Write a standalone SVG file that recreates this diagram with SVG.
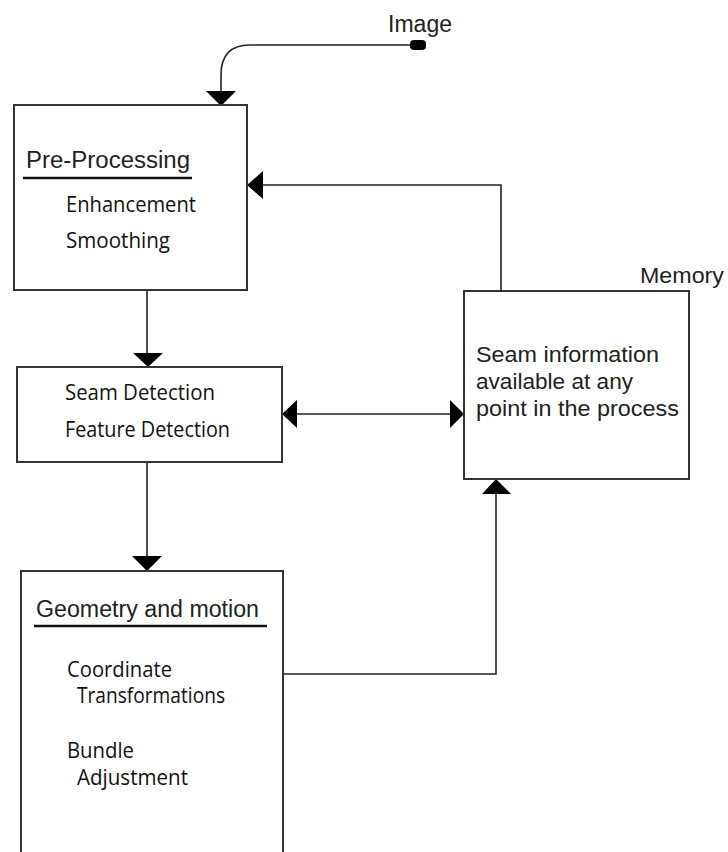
<svg xmlns="http://www.w3.org/2000/svg" width="728" height="852" viewBox="0 0 728 852">
<style>
.box{fill:#fff;stroke:#333;stroke-width:2}
.ln{fill:none;stroke:#222;stroke-width:1.6}
.ah{fill:#000}
.ttl{font-family:"Liberation Sans",Arial,sans-serif;font-size:23px;fill:#222}
.itm{font-family:"Open Sans","Noto Sans",sans-serif;font-size:21px;fill:#111}
.mem{font-family:"Liberation Sans",Arial,sans-serif;font-size:22.5px;fill:#222}
.ul{stroke:#111;stroke-width:2.5}
</style>
<rect width="728" height="852" fill="#fff"/>
<g id="connectors">
  <path class="ln" d="M418,45 H250 Q221,45 221,75 V92"/>
  <rect x="410" y="40" width="16" height="10" rx="4" fill="#000"/>
  <polygon class="ah" points="206,91 236,91 221,106"/>
  <path class="ln" d="M147,290 V354"/>
  <polygon class="ah" points="133,353 163,353 148,367"/>
  <path class="ln" d="M501,291 V185 H260"/>
  <polygon class="ah" points="247,185 263,171 263,199"/>
  <path class="ln" d="M294,414 H452"/>
  <polygon class="ah" points="282,414 297,400 297,428"/>
  <polygon class="ah" points="464,414 450,400 450,428"/>
  <path class="ln" d="M147,462 V557"/>
  <polygon class="ah" points="132,556 162,556 147,571"/>
  <path class="ln" d="M283,674 H496 V492"/>
  <polygon class="ah" points="496,479 482,494 511,494"/>
</g>
<g id="image-label">
  <text class="ttl" x="388" y="32" textLength="64">Image</text>
</g>
<g id="pre-processing">
  <rect class="box" x="14" y="105" width="233" height="185"/>
  <text class="ttl" x="26" y="168" textLength="164" lengthAdjust="spacingAndGlyphs">Pre-Processing</text>
  <line class="ul" x1="23" y1="178" x2="192" y2="178"/>
  <text class="itm" x="66" y="212" textLength="130" lengthAdjust="spacingAndGlyphs">Enhancement</text>
  <text class="itm" x="66" y="248" textLength="104" lengthAdjust="spacingAndGlyphs">Smoothing</text>
</g>
<g id="seam-detection">
  <rect class="box" x="17" y="367" width="265" height="95"/>
  <text class="itm" x="65" y="400" textLength="150" lengthAdjust="spacingAndGlyphs">Seam Detection</text>
  <text class="itm" x="65" y="437" textLength="165" lengthAdjust="spacingAndGlyphs">Feature Detection</text>
</g>
<g id="memory">
  <rect class="box" x="464" y="291" width="225" height="188"/>
  <text class="mem" x="640" y="283" textLength="84" lengthAdjust="spacingAndGlyphs">Memory</text>
  <text class="mem" x="476" y="362" textLength="183" lengthAdjust="spacingAndGlyphs">Seam information</text>
  <text class="mem" x="476" y="389" textLength="157" lengthAdjust="spacingAndGlyphs">available at any</text>
  <text class="mem" x="476" y="416" textLength="203" lengthAdjust="spacingAndGlyphs">point in the process</text>
</g>
<g id="geometry">
  <rect class="box" x="21" y="571" width="262" height="300"/>
  <text class="ttl" x="36" y="617" textLength="223" lengthAdjust="spacingAndGlyphs">Geometry and motion</text>
  <line class="ul" x1="34" y1="626" x2="267" y2="626"/>
  <text class="itm" x="67" y="677" textLength="105" lengthAdjust="spacingAndGlyphs">Coordinate</text>
  <text class="itm" x="77" y="703" textLength="148" lengthAdjust="spacingAndGlyphs">Transformations</text>
  <text class="itm" x="67" y="758" textLength="67" lengthAdjust="spacingAndGlyphs">Bundle</text>
  <text class="itm" x="77" y="785" textLength="111" lengthAdjust="spacingAndGlyphs">Adjustment</text>
</g>
</svg>
